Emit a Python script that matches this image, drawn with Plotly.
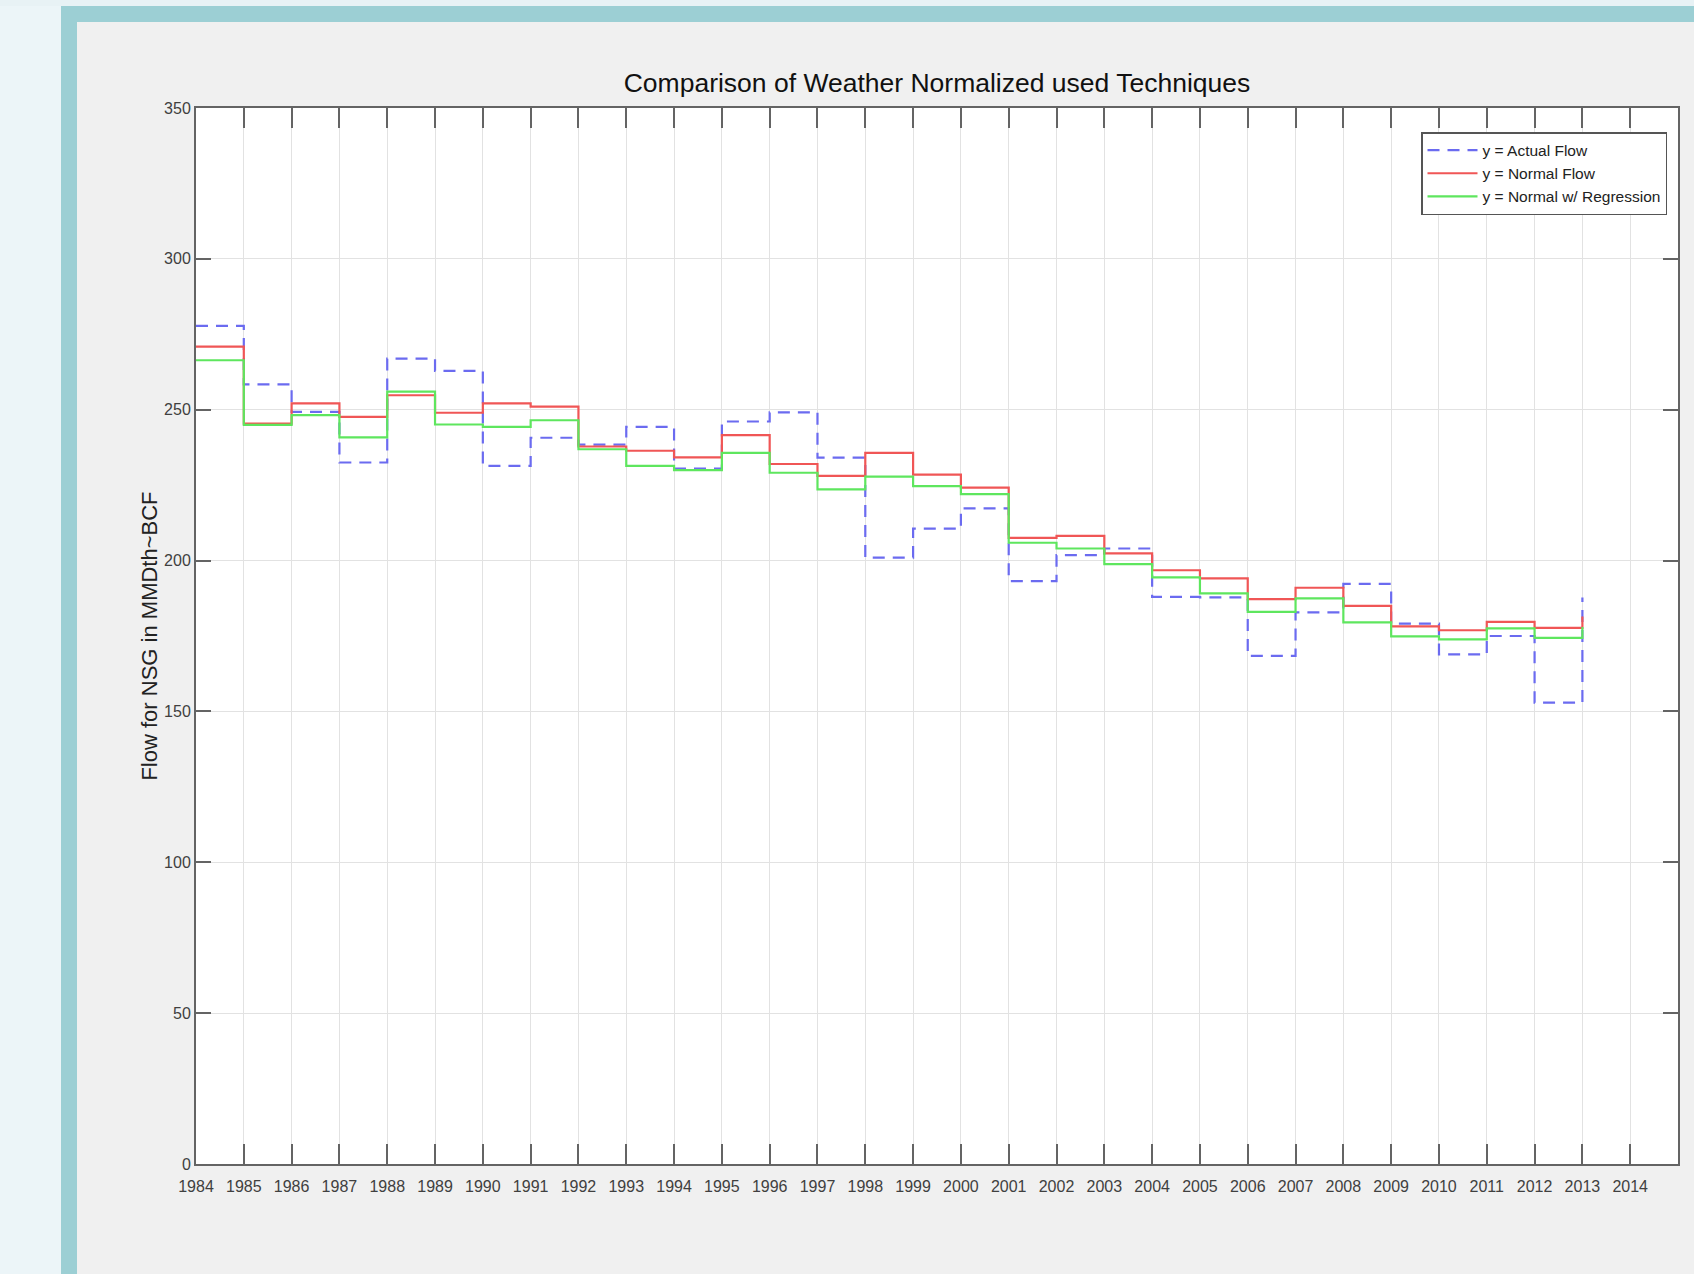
import plotly.graph_objects as go

years = list(range(1984, 2014))
actual_flow = [277.8, 258.4, 249.3, 232.5, 266.9, 262.9, 231.4, 240.7, 238.4, 244.3,
               230.5, 246.1, 249.1, 234.1, 201.0, 210.6, 217.3, 193.2, 201.8, 204.0,
               188.0, 187.8, 168.4, 182.8, 192.3, 179.1, 168.9, 175.0, 152.9, 187.8]
normal_flow = [270.9, 245.4, 252.1, 247.6, 254.8, 249.0, 252.1, 251.0, 237.8, 236.4,
               234.2, 241.6, 232.0, 228.1, 235.7, 228.5, 224.2, 207.5, 208.2, 202.4,
               196.8, 194.1, 187.2, 191.0, 185.0, 178.2, 176.9, 179.7, 177.7, 181.5]
normal_regression = [266.4, 245.0, 248.2, 240.8, 256.0, 245.1, 244.3, 246.5, 236.9, 231.4,
                     230.0, 235.7, 229.1, 223.6, 227.8, 224.7, 222.0, 205.9, 204.0, 198.8,
                     194.4, 189.1, 183.0, 187.5, 179.5, 174.9, 173.9, 177.5, 174.4, 178.0]
series_names = ["y = Actual Flow", "y = Normal Flow", "y = Normal w/ Regression"]
x_ticks = list(range(1984, 2015))
y_ticks = list(range(0, 351, 50))

W, H = 1694, 1274
ML, MR, MT, MB = 196, 16, 108, 110
PW, PH = W - ML - MR, H - MT - MB

def xp(px):
    return (px - ML) / PW

def yp(py):
    return (H - MB - py) / PH

sans = "Liberation Sans, Arial, Helvetica, sans-serif"

fig = go.Figure()
fig.add_trace(go.Scatter(x=years, y=actual_flow, mode="lines", line_shape="hv",
                         name=series_names[0],
                         line=dict(color="#6b6bf0", width=2.2, dash="12px,8px")))
fig.add_trace(go.Scatter(x=years, y=normal_flow, mode="lines", line_shape="hv",
                         name=series_names[1],
                         line=dict(color="#f05656", width=2.2)))
fig.add_trace(go.Scatter(x=years, y=normal_regression, mode="lines", line_shape="hv",
                         name=series_names[2],
                         line=dict(color="#5ee65e", width=2.2)))

shapes = [
    dict(type="rect", xref="paper", yref="paper", x0=xp(0), x1=xp(61), y0=yp(H), y1=yp(0),
         fillcolor="#ecf5f8", line_width=0, layer="below"),
    dict(type="rect", xref="paper", yref="paper", x0=xp(0), x1=xp(W), y0=yp(6), y1=yp(0),
         fillcolor="#e8f2f5", line_width=0, layer="below"),
    dict(type="rect", xref="paper", yref="paper", x0=xp(61), x1=xp(77), y0=yp(H), y1=yp(6),
         fillcolor="#9ccfd4", line_width=0, layer="below"),
    dict(type="rect", xref="paper", yref="paper", x0=xp(61), x1=xp(W), y0=yp(22), y1=yp(6),
         fillcolor="#9ccfd4", line_width=0, layer="below"),
]

axis_common = dict(
    showgrid=True, gridcolor="#e2e2e2", gridwidth=1,
    showline=True, linecolor="#646464", linewidth=2, mirror="ticks",
    ticks="inside", tickcolor="#646464", tickwidth=1.5,
    zeroline=False,
    tickfont=dict(family=sans, size=16, color="#404040"),
)

fig.update_layout(
    width=W, height=H,
    margin=dict(l=ML, r=MR, t=MT, b=MB, autoexpand=False),
    paper_bgcolor="#f0f0f0", plot_bgcolor="#ffffff",
    shapes=shapes,
    title=dict(text="Comparison of Weather Normalized used Techniques",
               xref="container", x=937 / W, xanchor="center",
               yref="container", y=1 - 83 / H, yanchor="middle",
               font=dict(family=sans, size=26.5, color="#111111")),
    xaxis=dict(range=[1984, 2015], tickmode="array", tickvals=x_ticks,
               ticktext=[str(v) for v in x_ticks], ticklen=20,
               ticklabelstandoff=7, **axis_common),
    yaxis=dict(range=[0, 350], tickmode="array", tickvals=y_ticks,
               ticktext=[str(v) for v in y_ticks], ticklen=15,
               title=dict(text="Flow for NSG in MMDth~BCF", standoff=0,
                          font=dict(family=sans, size=22, color="#222222")),
               **axis_common),
    legend=dict(x=xp(1421), y=yp(132), xanchor="left", yanchor="top",
                bgcolor="#ffffff", bordercolor="#555555", borderwidth=1.5,
                font=dict(family=sans, size=15.5, color="#222222"),
                tracegroupgap=0, itemwidth=50),
    showlegend=True,
)

fig.write_html("out.html",
               config={"displayModeBar": False},
               post_script="document.body.style.margin='0px';"
                           "document.body.style.background='#ecf5f8';"
                           "document.body.style.overflow='hidden';")
